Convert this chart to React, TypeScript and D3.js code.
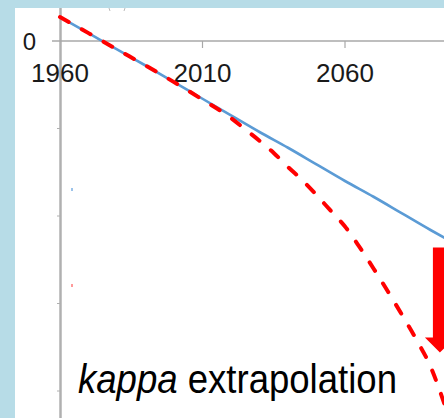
import * as d3 from 'd3';
import { useEffect } from 'react';

// years on the x axis, kappa index on the y axis
const xTicks = [1960, 2010, 2060];
const yTicks = [0, -50, -100, -150, -200];
const yLabels = ['0'];

const fittedYears = [1960, 1970, 1980, 1990, 2000, 2010, 2020, 2030, 2040, 2050, 2060, 2070, 2080, 2090, 2095];
const fittedKappa = [13.7, 4.5, -4.8, -14, -23.5, -33, -42.5, -52, -61, -70.5, -80, -89, -98.5, -108, -112.5];

const extrapYears = [1960, 1970, 1980, 1990, 2000, 2010, 2020, 2025, 2030, 2035, 2040, 2045, 2050, 2055, 2060, 2065, 2070, 2075, 2080, 2085, 2090, 2095];
const extrapKappa = [13.7, 4.5, -4.8, -14, -23.5, -33.5, -44, -50.5, -57, -64, -72, -79.5, -88, -97, -106, -117.5, -130, -143, -156.5, -170.5, -186, -208];

// the big red arrow on the right edge
const arrowYear = 2093.3;
const arrowFrom = -118;
const arrowTo = -178;

const W = 444, H = 418;
const BG = '#b7dce7';

function App() {
    useEffect(() => {
        document.body.style.margin = '0';
    }, []);

    const x = d3.scaleLinear().domain([1960, 2060]).range([60, 345]);
    const y = d3.scaleLinear().domain([0, -200]).range([41, 391]);

    const line = d3.line<[number, number]>()
        .x(d => x(d[0]))
        .y(d => y(d[1]))
        .curve(d3.curveMonotoneX);

    const fitted = fittedYears.map((yr, i) => [yr, fittedKappa[i]] as [number, number]);
    const extrap = extrapYears.map((yr, i) => [yr, extrapKappa[i]] as [number, number]);

    const ax = x(arrowYear);
    const aTop = y(arrowFrom);
    const aTip = y(arrowTo);
    const headLen = 15, barHalf = 7, headHalf = 15;
    const arrowPts = [
        [ax - barHalf, aTop], [ax + barHalf, aTop], [ax + barHalf, aTip - headLen],
        [ax + headHalf, aTip - headLen], [ax, aTip], [ax - headHalf, aTip - headLen],
        [ax - barHalf, aTip - headLen],
    ].map(p => p.join(',')).join(' ');

    return (
        <div style={{ position: 'fixed', left: 0, top: 0 }}>
            <svg width={W} height={H} style={{ display: 'block' }}>
                <defs>
                    <clipPath id="panel">
                        <rect x={15} y={8} width={W - 15} height={H - 8} />
                    </clipPath>
                </defs>
                <rect width={W} height={H} fill={BG} />
                <rect x={15} y={8} width={W - 15} height={H - 8} fill="#fff" />
                <g clipPath="url(#panel)">
                    {/* tiny leftover marks */}
                    <line x1={109} y1={8} x2={110} y2={11} stroke="#bbb" strokeWidth={1} />
                    <line x1={125} y1={8} x2={124} y2={11} stroke="#bbb" strokeWidth={1} />
                    <rect x={71} y={188} width={2} height={3} fill="#9cc3ea" />
                    <rect x={71} y={284} width={2} height={3} fill="#ff9a9a" />

                    {/* y axis */}
                    <line x1={60.5} y1={8} x2={60.5} y2={H} stroke="#c4c4c4" strokeWidth={3} />
                    <line x1={60.5} y1={8} x2={60.5} y2={H} stroke="#b0b0b0" strokeWidth={1} />
                    {yTicks.slice(1).map(t => (
                        <line key={t} x1={57} x2={60} y1={y(t)} y2={y(t)} stroke="#b0b0b0" strokeWidth={1} />
                    ))}

                    {/* x axis */}
                    <line x1={52} x2={W} y1={y(0)} y2={y(0)} stroke="#a8a8a8" strokeWidth={1.5} />
                    {xTicks.slice(1).map(t => (
                        <line key={t} x1={x(t)} x2={x(t)} y1={y(0)} y2={y(0) + 7} stroke="#a8a8a8" strokeWidth={1.2} />
                    ))}

                    <g fontFamily="'Liberation Sans', Arial, sans-serif" fill="#1a1a1a">
                        {yLabels.map(l => (
                            <text key={l} x={36} y={y(+l) + 9} fontSize={24} textAnchor="end">{l}</text>
                        ))}
                        {xTicks.map(t => (
                            <text key={t} x={x(t)} y={82} fontSize={26} textAnchor="middle">{t}</text>
                        ))}
                    </g>

                    <path d={line(fitted) ?? ''} fill="none" stroke="#5b9bd5" strokeWidth={2.6} />
                    <path d={line(extrap) ?? ''} fill="none" stroke="#ff0000" strokeWidth={4}
                        strokeDasharray="10 15" strokeLinecap="round" />

                    <polygon points={arrowPts} fill="#ff0000" />

                    <text x={78} y={393} fontSize={40} fill="#000"
                        fontFamily="'Liberation Sans', Arial, sans-serif"
                        textLength={319} lengthAdjust="spacingAndGlyphs">
                        <tspan fontStyle="italic">kappa</tspan> extrapolation
                    </text>
                </g>
            </svg>
        </div>
    );
}

export default App;
